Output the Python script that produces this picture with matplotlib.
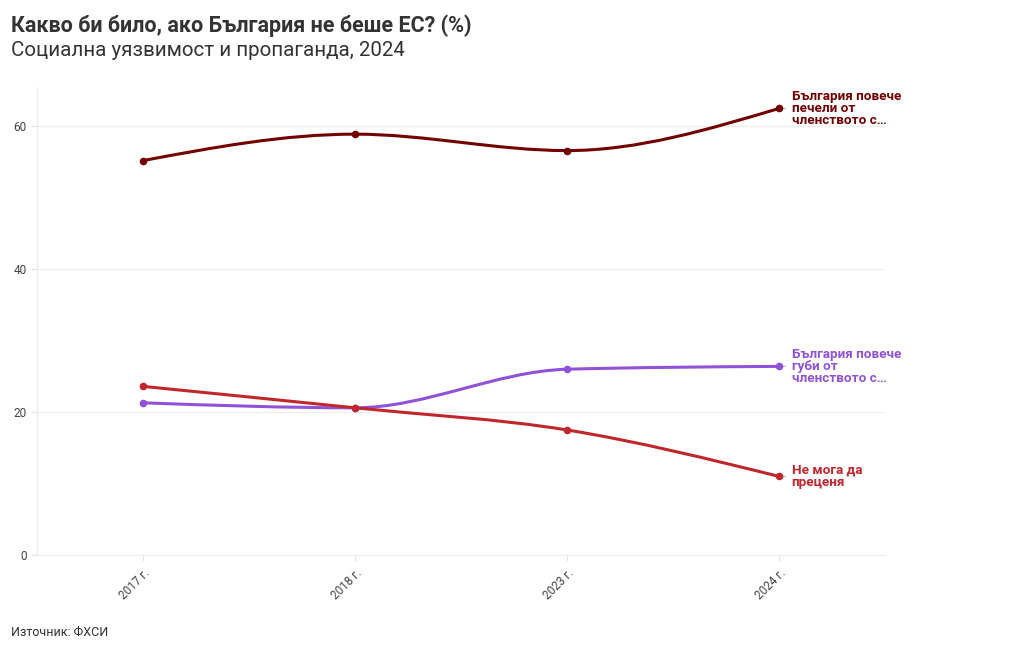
import matplotlib
matplotlib.use("Agg")
import matplotlib.pyplot as plt
import numpy as np
from matplotlib.path import Path
from matplotlib.patches import PathPatch

plt.rcParams['font.family'] = ['Roboto', 'DejaVu Sans']

categories = ["2017 г.", "2018 г.", "2023 г.", "2024 г."]
gains = [55.2, 58.9, 56.6, 62.5]
loses = [21.3, 20.6, 26.0, 26.4]
cannot = [23.6, 20.6, 17.5, 11.0]
series_names = ["България повече\nпечели от\nчленството с…",
                "България повече\nгуби от\nчленството с…",
                "Не мога да\nпреценя"]
colors = ["#730000", "#9152DA", "#C0272D"]
yticks = [0, 20, 40, 60]

W, H = 1020, 650
fig = plt.figure(figsize=(W / 100, H / 100), dpi=100)
L, R, B, T = 37, 885, 555, 87
ax = fig.add_axes([L / W, 1 - B / H, (R - L) / W, (B - T) / H])
ax.set_xlim(-0.5, 3.5)
ax.set_ylim(0, 65.5)


def monotone_path(xs, ys):
    xs = np.asarray(xs, float)
    ys = np.asarray(ys, float)
    n = len(xs)
    h = np.diff(xs)
    s = np.diff(ys) / h
    t = np.zeros(n)
    for i in range(1, n - 1):
        p = (s[i - 1] * h[i] + s[i] * h[i - 1]) / (h[i - 1] + h[i])
        t[i] = (np.sign(s[i - 1]) + np.sign(s[i])) * min(abs(s[i - 1]), abs(s[i]), 0.5 * abs(p))
    t[0] = (3 * s[0] - t[1]) / 2
    t[-1] = (3 * s[-1] - t[-2]) / 2
    verts = [(xs[0], ys[0])]
    codes = [Path.MOVETO]
    for i in range(n - 1):
        dx = h[i] / 3
        verts += [(xs[i] + dx, ys[i] + dx * t[i]),
                  (xs[i + 1] - dx, ys[i + 1] - dx * t[i + 1]),
                  (xs[i + 1], ys[i + 1])]
        codes += [Path.CURVE4] * 3
    return Path(verts, codes)


x = np.arange(len(categories))
for vals, col, name in zip([gains, loses, cannot], colors, series_names):
    ax.add_patch(PathPatch(monotone_path(x, vals), facecolor='none', edgecolor=col,
                           lw=2.2, zorder=3, capstyle='round'))
    ax.scatter(x, vals, s=30, color=col, zorder=4, linewidths=0)
    ax.annotate("", xy=(x[-1] + 0.02, vals[-1]), xytext=(x[-1] + 0.045, vals[-1]),
                arrowprops=dict(arrowstyle='-', color='#bbbbbb', lw=0.8))
    ax.text(x[-1] + 0.06, vals[-1], name, color=col, fontsize=9.7, fontweight='bold',
            va='center', ha='left', linespacing=0.92)

ax.set_yticks(yticks)
ax.set_yticklabels([str(v) for v in yticks])
ax.set_xticks(x)
ax.set_xticklabels(categories, rotation=45, ha='right', rotation_mode='anchor')
ax.grid(axis='y', color='#eeeeee', lw=0.9)
ax.set_axisbelow(True)
for s in ['top', 'right']:
    ax.spines[s].set_visible(False)
for s in ['left', 'bottom']:
    ax.spines[s].set_color('#eeeeee')
    ax.spines[s].set_linewidth(0.9)
ax.tick_params(axis='both', colors='#e4e4e4', labelcolor='#444444', labelsize=8.5,
               length=4, width=0.8)
ax.tick_params(axis='x', pad=4)

fig.text(11 / W, 1 - 26 / H, "Какво би било, ако България не беше ЕС? (%)",
         fontsize=15.5, fontweight='bold', color='#333333', va='center', ha='left')
fig.text(11 / W, 1 - 51 / H, "Социална уязвимост и пропаганда, 2024",
         fontsize=14.8, color='#333333', va='center', ha='left')
fig.text(11 / W, 1 - 632 / H, "Източник: ФХСИ", fontsize=9, color='#333333',
         va='center', ha='left')

fig.savefig("out.png", dpi=100, facecolor='white')
